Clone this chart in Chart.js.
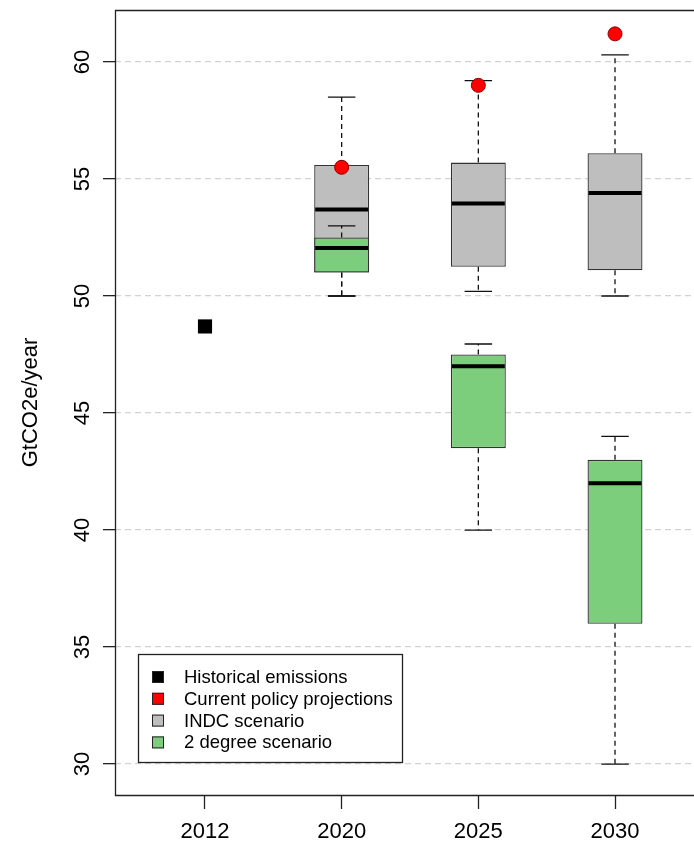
<!DOCTYPE html>
<html>
<head>
<meta charset="utf-8">
<title>GtCO2e/year scenarios</title>
<script src="https://cdn.jsdelivr.net/npm/chart.js@4/dist/chart.umd.min.js"></script>
<style>
  html, body { margin: 0; padding: 0; background: #fff; overflow: hidden; }
</style>
</head>
<body>
<canvas id="emissionsChart" width="694" height="848"></canvas>
<script>
// categories and tick labels
const years = ['2012', '2020', '2025', '2030'];
const yTicks = [30, 35, 40, 45, 50, 55, 60];

// point series
const historical = [48.7, null, null, null];
const currentPolicy = [null, 55.5, 59.0, 61.2];

// INDC scenario box stats
const indcMin = [null, 50.0, 50.2, 50.0];
const indcQ1 = [null, 51.0, 51.25, 51.1];
const indcMedian = [null, 53.7, 53.95, 54.4];
const indcQ3 = [null, 55.6, 55.7, 56.1];
const indcMax = [null, 58.5, 59.2, 60.3];

// 2 degree scenario box stats
const twoDegMin = [null, 50.0, 40.0, 30.0];
const twoDegQ1 = [null, 51.0, 43.5, 36.0];
const twoDegMedian = [null, 52.05, 47.0, 42.0];
const twoDegQ3 = [null, 52.5, 47.5, 43.0];
const twoDegMax = [null, 53.0, 47.95, 44.0];

const FONT = "'Liberation Sans', Arial, Helvetica, sans-serif";
const BOX_HALF = 0.201; // half box width in x units

Chart.defaults.font.family = FONT;
Chart.defaults.color = '#000';

const points = (arr) => arr.map((v, i) => v === null ? null : { x: i + 1, y: v }).filter(p => p);
const boxes = (lo, hi) => lo.map((v, i) => v === null ? null : { x: i + 1, y: [v, hi[i]] }).filter(p => p);

const boxSets = {
	2: { min: indcMin, q1: indcQ1, med: indcMedian, q3: indcQ3, max: indcMax },
	3: { min: twoDegMin, q1: twoDegQ1, med: twoDegMedian, q3: twoDegQ3, max: twoDegMax }
};

function drawWhiskers(chart, s) {
	const ctx = chart.ctx, xs = chart.scales.x, ys = chart.scales.y;
	ctx.save();
	ctx.strokeStyle = '#111';
	ctx.lineWidth = 1.3;
	s.med.forEach((m, i) => {
		if (m === null) return;
		const x = xs.getPixelForValue(i + 1);
		const cl = xs.getPixelForValue(i + 1 - BOX_HALF / 2);
		const cr = xs.getPixelForValue(i + 1 + BOX_HALF / 2);
		const yMax = ys.getPixelForValue(s.max[i]);
		const yMin = ys.getPixelForValue(s.min[i]);
		ctx.setLineDash([5, 4]);
		ctx.beginPath();
		ctx.moveTo(x, ys.getPixelForValue(s.q3[i]));
		ctx.lineTo(x, yMax);
		ctx.moveTo(x, ys.getPixelForValue(s.q1[i]));
		ctx.lineTo(x, yMin);
		ctx.stroke();
		ctx.setLineDash([]);
		ctx.beginPath();
		ctx.moveTo(cl, yMax); ctx.lineTo(cr, yMax);
		ctx.moveTo(cl, yMin); ctx.lineTo(cr, yMin);
		ctx.stroke();
	});
	ctx.restore();
}

function drawMedians(chart, s) {
	const ctx = chart.ctx, xs = chart.scales.x, ys = chart.scales.y;
	ctx.save();
	ctx.strokeStyle = '#000';
	ctx.lineWidth = 4;
	s.med.forEach((m, i) => {
		if (m === null) return;
		const y = ys.getPixelForValue(m);
		ctx.beginPath();
		ctx.moveTo(xs.getPixelForValue(i + 1 - BOX_HALF) + 1, y);
		ctx.lineTo(xs.getPixelForValue(i + 1 + BOX_HALF) - 1, y);
		ctx.stroke();
	});
	ctx.restore();
}

function drawFrame(chart) {
	const ctx = chart.ctx, a = chart.chartArea;
	ctx.save();
	ctx.strokeStyle = '#222';
	ctx.lineWidth = 1.3;
	ctx.beginPath();
	ctx.moveTo(a.right + 2, a.top + 0.5);
	ctx.lineTo(a.left + 0.5, a.top + 0.5);
	ctx.lineTo(a.left + 0.5, a.bottom + 0.5);
	ctx.lineTo(a.right + 2, a.bottom + 0.5);
	ctx.stroke();
	ctx.restore();
}

function drawLegend(chart) {
	const ctx = chart.ctx, a = chart.chartArea;
	const left = a.left + 23, top = a.bottom - 141, w = 264, h = 108;
	ctx.save();
	ctx.fillStyle = '#fff';
	ctx.fillRect(left, top, w, h);
	ctx.strokeStyle = '#222';
	ctx.lineWidth = 1.3;
	ctx.strokeRect(left + 0.5, top + 0.5, w, h);
	ctx.font = '18.5px ' + FONT;
	ctx.textBaseline = 'middle';
	chart.data.datasets.forEach((ds, i) => {
		const cy = top + 23 + i * 21.8;
		ctx.fillStyle = ds.legendColor;
		ctx.fillRect(left + 14, cy - 6, 12, 12);
		ctx.strokeStyle = '#222';
		ctx.lineWidth = 1;
		ctx.strokeRect(left + 14.5, cy - 5.5, 11, 11);
		ctx.fillStyle = '#000';
		ctx.fillText(ds.label, left + 46, cy + 1);
	});
	ctx.restore();
}

const boxPlot = {
	id: 'boxPlot',
	beforeDatasetDraw(chart, args) {
		if (boxSets[args.index]) drawWhiskers(chart, boxSets[args.index]);
	},
	afterDatasetDraw(chart, args) {
		if (boxSets[args.index]) drawMedians(chart, boxSets[args.index]);
	},
	afterDraw(chart) {
		drawFrame(chart);
		drawLegend(chart);
	}
};

const noPad = (s) => {
	s.paddingTop = 0;
	s.paddingBottom = 0;
	s.paddingLeft = 0;
	s.paddingRight = 0;
};

const ctx = document.getElementById('emissionsChart').getContext('2d');

new Chart(ctx, {
	type: 'scatter',
	data: {
		datasets: [{
			label: 'Historical emissions',
			data: points(historical),
			pointStyle: 'rect',
			pointRadius: 10,
			backgroundColor: '#000',
			borderColor: '#000',
			borderWidth: 0,
			legendColor: '#000',
			order: 0
		}, {
			label: 'Current policy projections',
			data: points(currentPolicy),
			pointStyle: 'circle',
			pointRadius: 7,
			backgroundColor: '#ff0000',
			borderColor: '#8b0000',
			borderWidth: 1,
			legendColor: '#ff0000',
			order: 0
		}, {
			type: 'bar',
			label: 'INDC scenario',
			data: boxes(indcQ1, indcQ3),
			backgroundColor: '#bebebe',
			borderColor: '#333',
			borderWidth: 1.3,
			borderSkipped: false,
			grouped: false,
			categoryPercentage: 1,
			barPercentage: BOX_HALF * 2,
			legendColor: '#bebebe',
			order: 2
		}, {
			type: 'bar',
			label: '2 degree scenario',
			data: boxes(twoDegQ1, twoDegQ3),
			backgroundColor: '#7ccd7c',
			borderColor: '#333',
			borderWidth: 1.3,
			borderSkipped: false,
			grouped: false,
			categoryPercentage: 1,
			barPercentage: BOX_HALF * 2,
			legendColor: '#7ccd7c',
			order: 1
		}]
	},
	options: {
		responsive: false,
		animation: false,
		layout: { autoPadding: false, padding: { top: 10, right: 0, left: 0, bottom: 0 } },
		plugins: {
			legend: { display: false },
			tooltip: { enabled: false }
		},
		scales: {
			x: {
				type: 'linear',
				min: 0.3415,
				max: 4.578,
				offset: false,
				afterBuildTicks: (s) => { s.ticks = years.map((_, i) => ({ value: i + 1 })); },
				afterFit: (s) => { s.height = 53; noPad(s); },
				ticks: {
					callback: (v) => years[v - 1],
					font: { size: 22 },
					color: '#000',
					padding: 10,
					autoSkip: false,
					maxRotation: 0
				},
				grid: {
					offset: false,
					drawOnChartArea: false,
					drawTicks: true,
					tickLength: 14,
					tickColor: '#222',
					tickWidth: 1.3
				},
				border: { display: false }
			},
			y: {
				min: 28.68,
				max: 62.22,
				afterBuildTicks: (s) => { s.ticks = yTicks.map(v => ({ value: v })); },
				afterFit: (s) => { s.width = 115; noPad(s); },
				ticks: {
					font: { size: 22 },
					color: '#000',
					minRotation: 90,
					maxRotation: 90,
					crossAlign: 'center',
					padding: 8
				},
				grid: {
					color: '#d3d3d3',
					lineWidth: 1.3,
					drawTicks: true,
					tickLength: 12,
					tickColor: '#222',
					tickWidth: 1.3,
					tickBorderDash: []
				},
				border: { display: false, dash: [6, 4] },
				title: {
					display: true,
					text: 'GtCO2e/year',
					font: { size: 22 },
					color: '#000',
					padding: { top: 18, bottom: 0 }
				}
			}
		}
	},
	plugins: [boxPlot]
});
</script>
</body>
</html>
